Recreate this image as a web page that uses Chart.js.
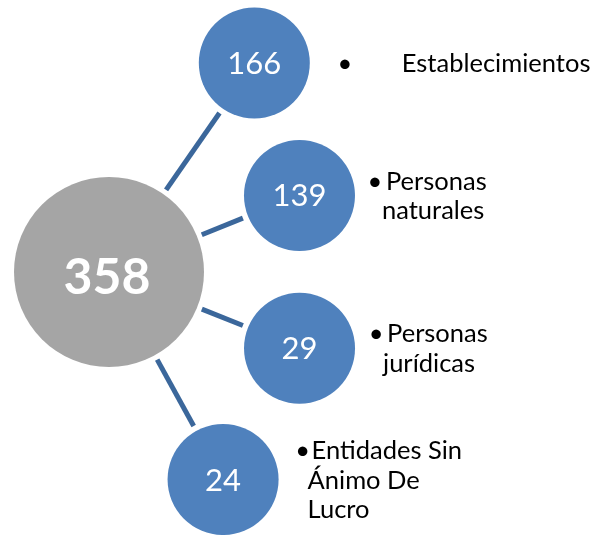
<!DOCTYPE html>
<html>
<head>
<meta charset="utf-8">
<title>Total 358</title>
<script src="https://cdn.jsdelivr.net/npm/chart.js@4.4.1/dist/chart.umd.min.js"></script>
<style>
    html, body { margin: 0; padding: 0; background: #ffffff; }
    #wrap { width: 607px; height: 535px; }
</style>
</head>
<body>
<div id="wrap"><canvas id="diagramChart" width="607" height="535"></canvas></div>
<script>
// =======================================
// Datos
// =======================================

const totalValue = 358;
const categories = [
    ["Establecimientos"],
    ["Personas", "naturales"],
    ["Personas", "jurídicas"],
    ["Entidades Sin", "Ánimo De", "Lucro"]
];
const values = [166, 139, 29, 24];

// =======================================
// Disposición radial (layout)
// =======================================

const hub = { x: 109, y: 272, r: 95 };
const nodeRadius = 55.5;
const nodeAngles = [-55.2, -21.9, 21.8, 61.2];      // grados
const nodeDistances = [254.6, 205.3, 205.2, 236.8];
const bulletGap = [35, 20, 21, 24];
const textIndent = [57, 11, 11, 9];

const hubColor = "#A5A5A5";
const nodeColor = "#4F81BD";
const lineColor = "#3B679B";
const fontFamily = "Lato, 'Open Sans', sans-serif";

const nodes = values.map((v, i) => {
    const a = nodeAngles[i] * Math.PI / 180;
    return {
        x: hub.x + Math.cos(a) * nodeDistances[i],
        y: hub.y + Math.sin(a) * nodeDistances[i],
        r: nodeRadius
    };
});

// conectores entre el centro y cada nodo
const connectorSets = nodes.map((n, i) => {
    const a = nodeAngles[i] * Math.PI / 180;
    const ux = Math.cos(a), uy = Math.sin(a);
    const d0 = hub.r + 5;
    const d1 = nodeDistances[i] - nodeRadius - 5.5;
    return {
        type: "line",
        data: [
            { x: hub.x + ux * d0, y: hub.y + uy * d0 },
            { x: hub.x + ux * d1, y: hub.y + uy * d1 }
        ],
        borderColor: lineColor,
        borderWidth: 5,
        borderCapStyle: "butt",
        pointRadius: 0,
        fill: false,
        clip: false
    };
});

// texto dentro de los círculos y viñetas a la derecha
const labelPlugin = {
    id: "labelPlugin",
    afterDatasetsDraw(chart) {
        const ctx = chart.ctx;
        const hubMeta = chart.getDatasetMeta(0);
        const nodeMeta = chart.getDatasetMeta(1);

        ctx.save();
        ctx.fillStyle = "#ffffff";
        ctx.textAlign = "center";
        ctx.textBaseline = "middle";

        const h = hubMeta.data[0];
        ctx.font = "bold 50px " + fontFamily;
        ctx.fillText(String(totalValue), h.x - 2, h.y + 6);

        ctx.font = "31px " + fontFamily;
        nodeMeta.data.forEach((el, i) => {
            ctx.fillText(String(values[i]), el.x, el.y + 1);
        });

        ctx.fillStyle = "#000000";
        ctx.textBaseline = "alphabetic";
        ctx.font = "25.5px " + fontFamily;
        const lineH = 29.5;
        nodeMeta.data.forEach((el, i) => {
            const lines = categories[i];
            const bx = el.x + nodeRadius + bulletGap[i];
            const tx = bx + textIndent[i];
            let by = el.y - (lines.length - 1) * lineH / 2 + 9;
            ctx.textAlign = "center";
            ctx.fillText("•", bx, by);
            ctx.textAlign = "left";
            lines.forEach((line, k) => {
                ctx.fillText(line, k === 0 ? tx : tx - 4, by + k * lineH);
            });
        });
        ctx.restore();
    }
};

const chartCanvas = document.getElementById("diagramChart");

new Chart(chartCanvas, {
    type: "bubble",
    data: {
        datasets: [
            {
                data: [{ x: hub.x, y: hub.y, r: hub.r }],
                backgroundColor: hubColor,
                borderWidth: 0,
                clip: false
            },
            {
                data: nodes,
                backgroundColor: nodeColor,
                borderWidth: 0,
                clip: false
            },
            ...connectorSets
        ]
    },
    options: {
        responsive: false,
        animation: false,
        events: [],
        layout: { padding: 0, autoPadding: false },
        plugins: {
            legend: { display: false },
            tooltip: { enabled: false }
        },
        scales: {
            x: { type: "linear", min: 0, max: 607, display: false },
            y: { type: "linear", min: 0, max: 535, reverse: true, display: false }
        }
    },
    plugins: [labelPlugin]
});
</script>
</body>
</html>
